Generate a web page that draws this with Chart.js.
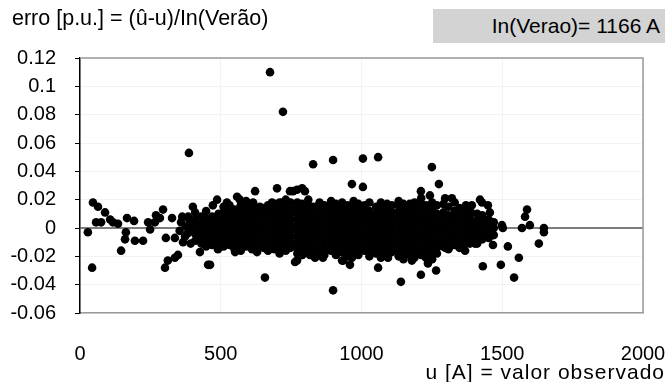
<!DOCTYPE html>
<html>
<head>
<meta charset="utf-8">
<script src="https://cdn.jsdelivr.net/npm/chart.js@4.4.1/dist/chart.umd.min.js"></script>
<style>
	body { margin: 0; background: #fff; }
	#wrap { position: relative; width: 670px; height: 382px; font-family: Arial, "Liberation Sans", sans-serif; color: #000; }
	#grafico { position: absolute; left: 0; top: 0; }
	.txt { position: absolute; white-space: nowrap; }
	#titulo { left: 12px; top: 6px; line-height: 24px; font-size: 21.5px; }
	#caixa { left: 433px; top: 9px; width: 232px; height: 34px; line-height: 34px; background: #d3d3d3; text-align: right; box-sizing: border-box; padding-right: 5px; font-size: 21px; }
	#eixoX { right: 5px; top: 361px; line-height: 22px; font-size: 21px; letter-spacing: 1px; }
</style>
</head>
<body>
<div id="wrap">
	<canvas id="grafico" width="670" height="382"></canvas>
	<div class="txt" id="titulo">erro [p.u.] = (û-u)/In(Verão)</div>
	<div class="txt" id="caixa">In(Verao)= 1166 A</div>
	<div class="txt" id="eixoX">u [A] = valor observado</div>
</div>
<script>
// eixo
const ticksX = [0, 500, 1000, 1500, 2000];
const ticksY = [-0.06, -0.04, -0.02, 0, 0.02, 0.04, 0.06, 0.08, 0.1, 0.12];

// nuvem densa: cada coluna tem um u observado e varios erros
const nucleoU = [409, 431, 448, 469, 492, 510, 531, 549, 571, 590, 611, 629, 652, 668, 691, 709, 731, 748, 772, 789, 811, 829, 851, 868, 892, 909, 931, 950, 972, 989, 1011, 1028, 1052, 1069, 1091, 1108, 1132, 1149, 1171, 1188, 1212, 1229, 1251, 1268, 1291, 1309, 1331, 1348, 1371, 1389, 1411, 1429, 1452, 1470];
const nucleoErro = [
	[-.009,-.004,.001,.006,.011],
	[-.011,-.006,-.001,.003,.008],
	[-.013,-.009,-.005,-.001,.003,.007,.012],
	[-.012,-.008,-.004,.000,.004,.008],
	[-.014,-.010,-.006,-.002,.002,.006,.010],
	[-.013,-.009,-.005,-.001,.003,.007,.011,.015],
	[-.012,-.008,-.004,.000,.004,.008,.012,.016],
	[-.015,-.011,-.007,-.003,.001,.005,.009,.013],
	[-.016,-.012,-.008,-.004,.000,.004,.008,.012,.016],
	[-.013,-.009,-.005,-.001,.003,.007,.011,.015,.019],
	[-.015,-.011,-.007,-.003,.001,.005,.009,.013,.017],
	[-.017,-.013,-.009,-.005,-.001,.003,.007,.011,.014],
	[-.014,-.010,-.006,-.002,.002,.006,.010,.014],
	[-.016,-.012,-.008,-.004,.000,.004,.008,.012,.016],
	[-.015,-.011,-.007,-.003,.001,.005,.009,.013,.017],
	[-.018,-.014,-.010,-.006,-.002,.002,.006,.010,.014,.018],
	[-.016,-.012,-.008,-.004,.000,.004,.008,.012,.016,.020],
	[-.014,-.010,-.006,-.002,.002,.006,.010,.014,.018],
	[-.018,-.014,-.010,-.006,-.002,.002,.006,.010,.014,.018],
	[-.019,-.015,-.011,-.007,-.003,.001,.005,.009,.013,.017],
	[-.016,-.012,-.008,-.004,.000,.004,.008,.012,.016,.020],
	[-.017,-.013,-.009,-.005,-.001,.003,.007,.011,.015],
	[-.018,-.014,-.010,-.006,-.002,.002,.006,.010,.014,.018],
	[-.019,-.015,-.011,-.007,-.003,.001,.005,.009,.013,.016],
	[-.016,-.012,-.008,-.004,.000,.004,.008,.012,.016,.019],
	[-.019,-.015,-.011,-.007,-.003,.001,.005,.009,.013,.017],
	[-.017,-.013,-.009,-.005,-.001,.003,.007,.011,.015,.018],
	[-.020,-.016,-.012,-.008,-.004,.000,.004,.008,.012,.016],
	[-.018,-.014,-.010,-.006,-.002,.002,.006,.010,.014,.019],
	[-.019,-.015,-.011,-.007,-.003,.001,.005,.009,.013,.017],
	[-.016,-.012,-.008,-.004,.000,.004,.008,.012,.016],
	[-.020,-.016,-.012,-.008,-.004,.000,.004,.008,.012,.018],
	[-.018,-.014,-.010,-.006,-.002,.002,.006,.010,.015],
	[-.021,-.017,-.013,-.009,-.005,-.001,.003,.007,.011,.015,.018],
	[-.019,-.015,-.011,-.007,-.003,.001,.005,.009,.013,.017],
	[-.017,-.013,-.009,-.005,-.001,.003,.007,.011,.016],
	[-.020,-.016,-.012,-.008,-.004,.000,.004,.008,.012,.016,.019],
	[-.022,-.018,-.014,-.010,-.006,-.002,.002,.006,.010,.014,.017],
	[-.019,-.015,-.011,-.007,-.003,.001,.005,.009,.013,.017],
	[-.021,-.017,-.013,-.009,-.005,-.001,.003,.007,.011,.015,.018],
	[-.019,-.015,-.011,-.007,-.003,.001,.005,.009,.013,.017,.021],
	[-.021,-.017,-.013,-.009,-.005,-.001,.003,.007,.011,.016],
	[-.022,-.018,-.014,-.010,-.006,-.002,.002,.006,.010,.014,.018],
	[-.018,-.014,-.010,-.006,-.002,.002,.006,.010,.016],
	[-.013,-.009,-.005,-.001,.003,.007,.011,.017],
	[-.015,-.011,-.007,-.003,.001,.005,.009,.015],
	[-.012,-.008,-.004,.000,.004,.008,.012,.018],
	[-.014,-.010,-.006,-.002,.002,.006,.010,.014],
	[-.011,-.007,-.003,.001,.005,.009,.013,.016],
	[-.010,-.006,-.002,.002,.006,.011],
	[-.011,-.007,-.003,.001,.005,.010],
	[-.008,-.004,.000,.004,.009],
	[-.007,-.003,.001,.006],
	[-.005,.000,.004]
];

// pontos soltos [u, erro]
const dispersos = [
	[28,-.003],[43,-.028],[46,.018],[64,.015],[89,.011],[57,.004],[75,.004],[107,.006],[117,.004],[135,.003],
	[167,.007],[192,.005],[163,-.003],[160,-.008],[195,-.009],[224,-.009],[146,-.016],[249,-.001],[242,.004],[266,.004],
	[270,.009],[295,.013],[284,.007],[327,.007],[305,-.007],[337,-.007],[373,-.006],[312,-.023],[337,-.021],[302,-.028],
	[348,-.019],[384,.008],[401,.015],[426,-.017],[462,-.026],[472,.016],[487,.020],[522,.018],[558,.022],[568,.020],
	[354,-.002],[359,.004],[366,-.010],[377,.001],[381,-.004],[388,.006],[393,-.011],[398,-.001],[402,.003],[363,.008],
	[622,.026],[657,-.035],[700,.028],[682,.018],[718,.018],[746,.026],[771,.027],[789,.028],[799,.026],[764,-.024],
	[789,-.019],[835,-.021],[863,-.021],[899,-.044],[639,.015],[615,.018],[455,-.026],[490,-.015],[551,-.017],[757,.026],
	[966,.031],[1005,.029],[1275,.031],[1211,.026],[1243,.023],
	[1421,.020],[1297,.021],[1321,.021],[1392,.016],[1428,.018],[1449,.016],[1456,.011],
	[1499,.002],[1502,.000],[1570,.000],[1588,.013],[1581,.008],[1598,.002],[1648,.000],[1648,-.003],[1630,-.011],
	[1520,-.013],[1559,-.021],[1495,-.026],[1431,-.027],[1542,-.035],[1059,-.028],[1140,-.038],[1211,-.033],[1265,-.030],
	[931,-.023],[959,-.026],[1094,-.021],[1179,-.023],[1236,-.025],[1297,-.014],[1368,-.016],[1403,-.011],
	[1250,-.016],[1314,-.013],[1385,-.011],[1431,-.006],[1467,-.012],[935,-.023],[966,-.021],[1030,-.018],[771,-.023],[817,-.019]
];

// outliers acima da nuvem
const altos = [
	[675,.110],[721,.082],[387,.053],[828,.045],[899,.048],[1005,.049],[1059,.050],[1250,.043]
];

const pontos = [];
nucleoU.forEach((u, i) => nucleoErro[i].forEach(e => pontos.push({ x: u, y: e })));
dispersos.concat(altos).forEach(p => pontos.push({ x: p[0], y: p[1] }));

const fonte = { family: 'Arial, "Liberation Sans", sans-serif', size: 20 };

// moldura cinza em cima e a direita
const moldura = {
	id: 'moldura',
	afterDraw(chart) {
		const a = chart.chartArea, ctx = chart.ctx;
		ctx.save();
		ctx.strokeStyle = '#999';
		ctx.lineWidth = 1.5;
		ctx.beginPath();
		ctx.moveTo(a.left, a.top);
		ctx.lineTo(a.right, a.top);
		ctx.lineTo(a.right, a.bottom);
		ctx.stroke();
		ctx.restore();
	}
};

new Chart(document.getElementById('grafico'), {
	type: 'scatter',
	plugins: [moldura],
	data: {
		datasets: [{
			data: pontos,
			backgroundColor: '#000',
			borderWidth: 0,
			pointRadius: 4.3,
			pointHoverRadius: 4.3,
			order: 1
		}, {
			type: 'line',
			data: [{ x: 0, y: 0 }, { x: 2000, y: 0 }],
			borderColor: '#555',
			borderWidth: 1.5,
			pointRadius: 0,
			order: 2
		}]
	},
	options: {
		responsive: false,
		animation: false,
		layout: { padding: { top: 58, right: 27, left: 0, bottom: 0 } },
		plugins: { legend: { display: false }, tooltip: { enabled: false } },
		scales: {
			x: {
				type: 'linear',
				min: 0,
				max: 2000,
				afterFit: s => { s.height = 69; s.paddingLeft = 0; s.paddingRight = 0; },
				afterBuildTicks: s => { s.ticks = ticksX.map(v => ({ value: v })); },
				grid: { color: '#f3f3f3', drawTicks: false },
				border: { color: '#999', width: 1.5 },
				ticks: { color: '#000', font: fonte, padding: 29, maxRotation: 0, callback: v => String(v) }
			},
			y: {
				min: -0.06,
				max: 0.12,
				afterFit: s => { s.width = 80; s.paddingTop = 0; s.paddingBottom = 0; },
				afterBuildTicks: s => { s.ticks = ticksY.map(v => ({ value: v })); },
				grid: { color: '#f3f3f3', tickColor: '#000', tickLength: 5 },
				border: { color: '#000', width: 1.5 },
				ticks: {
					color: '#000', font: fonte, padding: 19,
					callback: v => String(Number(v.toFixed(2)))
				}
			}
		}
	}
});
</script>
</body>
</html>
